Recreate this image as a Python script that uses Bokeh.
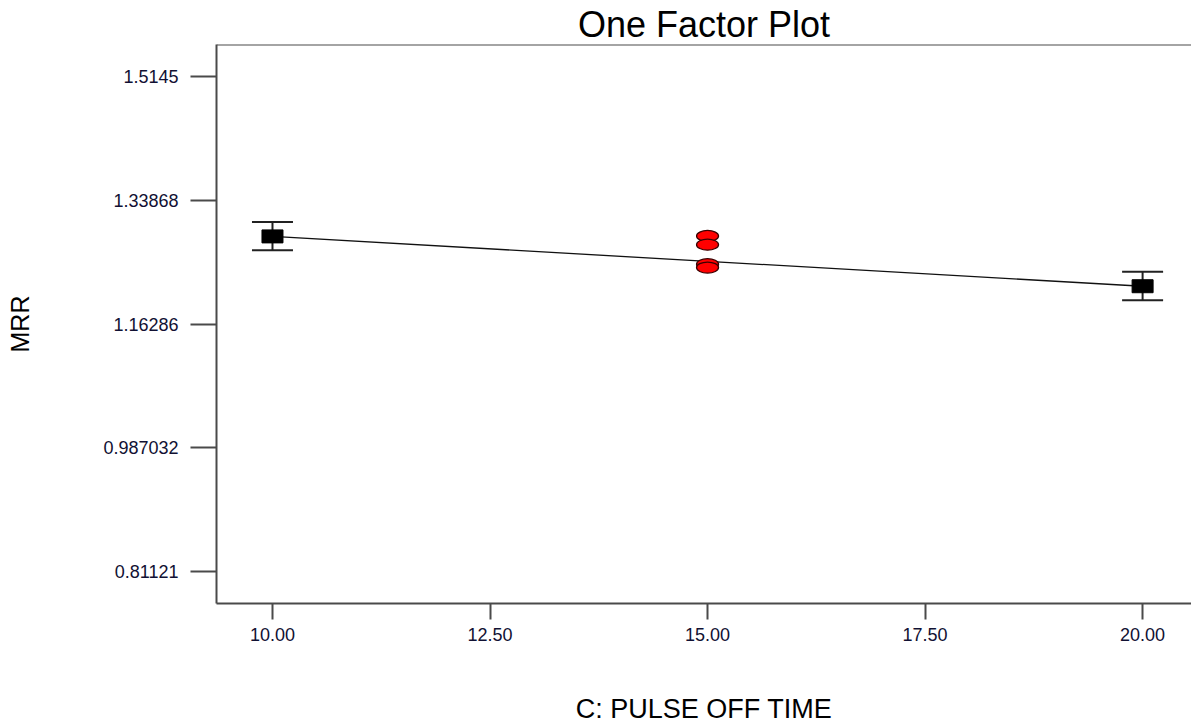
from bokeh.plotting import figure
from bokeh.models import Range1d, FixedTicker, Whisker, TeeHead, ColumnDataSource, Span
from bokeh.embed import file_html
from bokeh.resources import INLINE

# Factor levels with predicted mean MRR and its interval
levels = [10.0, 20.0]
mean_mrr = [1.2876, 1.2168]
upper_mrr = [1.3081, 1.2372]
lower_mrr = [1.2678, 1.1969]

# Center point runs
center_x = [15.0, 15.0, 15.0, 15.0]
center_mrr = [1.2882, 1.2759, 1.2482, 1.2433]

x_ticks = [10.0, 12.5, 15.0, 17.5, 20.0]
x_tick_labels = ["10.00", "12.50", "15.00", "17.50", "20.00"]
y_ticks = [0.81121, 0.987032, 1.16286, 1.33868, 1.5145]
y_tick_labels = ["0.81121", "0.987032", "1.16286", "1.33868", "1.5145"]

x_start, x_end = 9.3566, 20.562
y_start, y_end = 0.7661, 1.5602

FONT = "Liberation Sans"
AXIS_COLOR = "#4a4a4a"

p = figure(
    width=1191, height=726,
    x_range=Range1d(x_start, x_end), y_range=Range1d(y_start, y_end),
    output_backend="svg", toolbar_location=None,
    min_border_left=216, min_border_right=0,
    min_border_top=44, min_border_bottom=122,
    title="One Factor Plot",
)
p.outline_line_color = None
p.background_fill_color = "white"
p.border_fill_color = "white"
p.xgrid.visible = False
p.ygrid.visible = False

p.title.align = "center"
p.title.text_font = FONT
p.title.text_font_size = "36px"
p.title.text_font_style = "normal"
p.title.text_color = "black"
p.title.standoff = 0
p.title.offset = 0

# top border of the frame
p.add_layout(Span(location=y_end, dimension="width", line_color=AXIS_COLOR, line_width=2))

for ax in (p.xaxis[0], p.yaxis[0]):
    ax.axis_line_color = AXIS_COLOR
    ax.axis_line_width = 2
    ax.major_tick_line_color = AXIS_COLOR
    ax.major_tick_line_width = 2
    ax.major_tick_in = 0
    ax.minor_tick_line_color = None
    ax.major_label_text_font = FONT
    ax.major_label_text_font_size = "18px"
    ax.major_label_text_color = "#111133"
    ax.axis_label_text_font = FONT
    ax.axis_label_text_font_style = "normal"
    ax.axis_label_text_color = "black"

p.xaxis.ticker = FixedTicker(ticks=x_ticks)
p.xaxis.major_label_overrides = dict(zip(x_ticks, x_tick_labels))
p.xaxis.major_tick_out = 16
p.xaxis.major_label_standoff = 8
p.xaxis.axis_label = "C: PULSE OFF TIME"
p.xaxis.axis_label_text_font_size = "27px"
p.xaxis.axis_label_standoff = 50

p.yaxis.ticker = FixedTicker(ticks=y_ticks)
p.yaxis.major_label_overrides = dict(zip(y_ticks, y_tick_labels))
p.yaxis.major_tick_out = 26
p.yaxis.major_label_standoff = 12
p.yaxis.major_label_orientation = "horizontal"
p.yaxis.axis_label = "MRR"
p.yaxis.axis_label_text_font_size = "25px"
p.yaxis.axis_label_standoff = 66

# fitted response line
p.line(levels, mean_mrr, line_color="#111111", line_width=1.3)

# interval bars
src = ColumnDataSource(dict(x=levels, upper=upper_mrr, lower=lower_mrr, y=mean_mrr))
whisk = Whisker(
    base="x", upper="upper", lower="lower", source=src,
    line_color="#222222", line_width=2,
    upper_head=TeeHead(size=41, line_color="#222222", line_width=2),
    lower_head=TeeHead(size=41, line_color="#222222", line_width=2),
)
p.add_layout(whisk)

# predicted means
p.rect("x", "y", source=src, width=21, height=13,
       width_units="screen", height_units="screen",
       fill_color="black", line_color="black")

# center point runs
p.ellipse(center_x, center_mrr, width=22, height=11,
          width_units="screen", height_units="screen",
          fill_color="#ff0000", line_color="#3a0000", line_width=1.3)

open("out.html", "w").write(file_html(p, INLINE))
